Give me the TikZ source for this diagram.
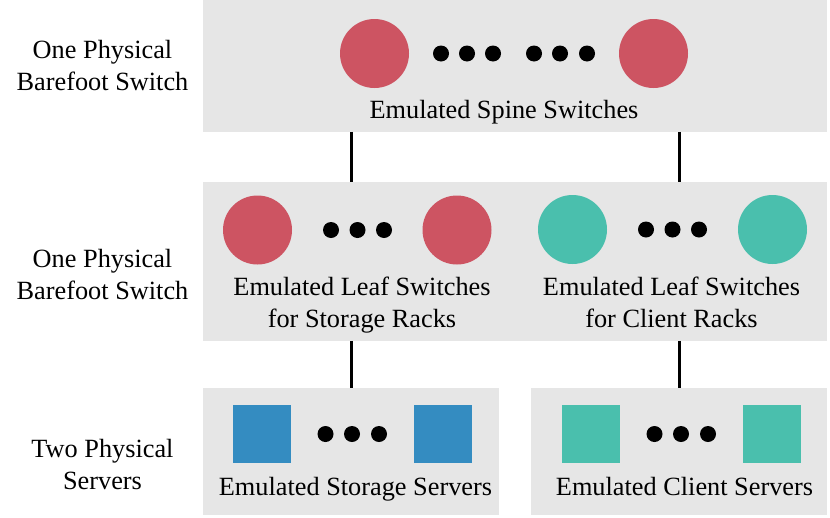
\documentclass[tikz,border=0pt]{standalone}
\usepackage{fontspec}
\setmainfont{Liberation Serif}
\definecolor{boxgray}{HTML}{E6E6E6}
\definecolor{swred}{HTML}{CD5462}
\definecolor{swteal}{HTML}{4ABFAD}
\definecolor{srvblue}{HTML}{348CC1}
\begin{document}
\begin{tikzpicture}[x=1pt,y=-1pt,
  panel/.style={fill=boxgray,draw=none,rectangle,inner sep=0pt,anchor=north west},
  redsw/.style={circle,fill=swred,draw=none,minimum size=69pt,inner sep=0pt},
  tealsw/.style={circle,fill=swteal,draw=none,minimum size=69pt,inner sep=0pt},
  bluesrv/.style={rectangle,fill=srvblue,draw=none,minimum size=58pt,inner sep=0pt},
  tealsrv/.style={rectangle,fill=swteal,draw=none,minimum size=58pt,inner sep=0pt},
  dot/.style={circle,fill=black,draw=none,minimum size=16pt,inner sep=0pt},
  lbl/.style={font=\fontsize{26.3}{32}\selectfont,align=center,inner sep=0pt,anchor=base},
  link/.style={line width=3pt,black}]
\useasboundingbox (0,0) rectangle (830,517);
% panels
\node[panel,minimum width=624pt,minimum height=131.5pt] (spinebox) at (203,0) {};
\node[panel,minimum width=624pt,minimum height=159pt] (leafbox) at (203,181.5) {};
\node[panel,minimum width=296pt,minimum height=127.5pt] (storbox) at (203,387.5) {};
\node[panel,minimum width=296pt,minimum height=127.5pt] (clibox) at (531,387.5) {};
% spine
\node[redsw] (sp1) at (374.5,53.5) {};
\node[redsw] (sp2) at (653.5,53.5) {};
\foreach \i/\x in {1/441,2/467,3/493,4/534,5/560,6/587}
  \node[dot] (spd\i) at (\x,53.5) {};
\node[lbl] (sptxt) at (504,118) {Emulated Spine Switches};
% leaf storage
\node[redsw] (ls1) at (257.5,230) {};
\node[redsw] (ls2) at (457,230) {};
\foreach \i/\x in {1/331,2/357.5,3/384}
  \node[dot] (lsd\i) at (\x,230) {};
\node[lbl] (lstxt) at (362,327) {Emulated Leaf Switches\\for Storage Racks};
% leaf client
\node[tealsw] (lc1) at (572.5,229.5) {};
\node[tealsw] (lc2) at (772.5,229.5) {};
\foreach \i/\x in {1/646,2/672.5,3/699}
  \node[dot] (lcd\i) at (\x,229.5) {};
\node[lbl] (lctxt) at (671.5,327) {Emulated Leaf Switches\\for Client Racks};
% storage servers
\node[bluesrv] (ss1) at (261.5,433.5) {};
\node[bluesrv] (ss2) at (442.5,433.5) {};
\foreach \i/\x in {1/325.5,2/352,3/379}
  \node[dot] (ssd\i) at (\x,434) {};
\node[lbl] (sstxt) at (355.5,495) {Emulated Storage Servers};
% client servers
\node[tealsrv] (cs1) at (590.5,433.5) {};
\node[tealsrv] (cs2) at (771.5,433.5) {};
\foreach \i/\x in {1/654.5,2/681,3/708}
  \node[dot] (csd\i) at (\x,434) {};
\node[lbl] (cstxt) at (684.5,495) {Emulated Client Servers};
% side labels
\node[lbl] (side1) at (102.5,90) {One Physical\\Barefoot Switch};
\node[lbl] (side2) at (102.5,299.5) {One Physical\\Barefoot Switch};
\node[lbl] (side3) at (102.5,489) {Two Physical\\Servers};
% connectors
\coordinate (xl) at (351,0);
\coordinate (xr) at (679,0);
\draw[link] (spinebox.south -| xl) -- (leafbox.north -| xl);
\draw[link] (spinebox.south -| xr) -- (leafbox.north -| xr);
\draw[link] (leafbox.south -| xl) -- (storbox.north -| xl);
\draw[link] (leafbox.south -| xr) -- (clibox.north -| xr);
\end{tikzpicture}
\end{document}
